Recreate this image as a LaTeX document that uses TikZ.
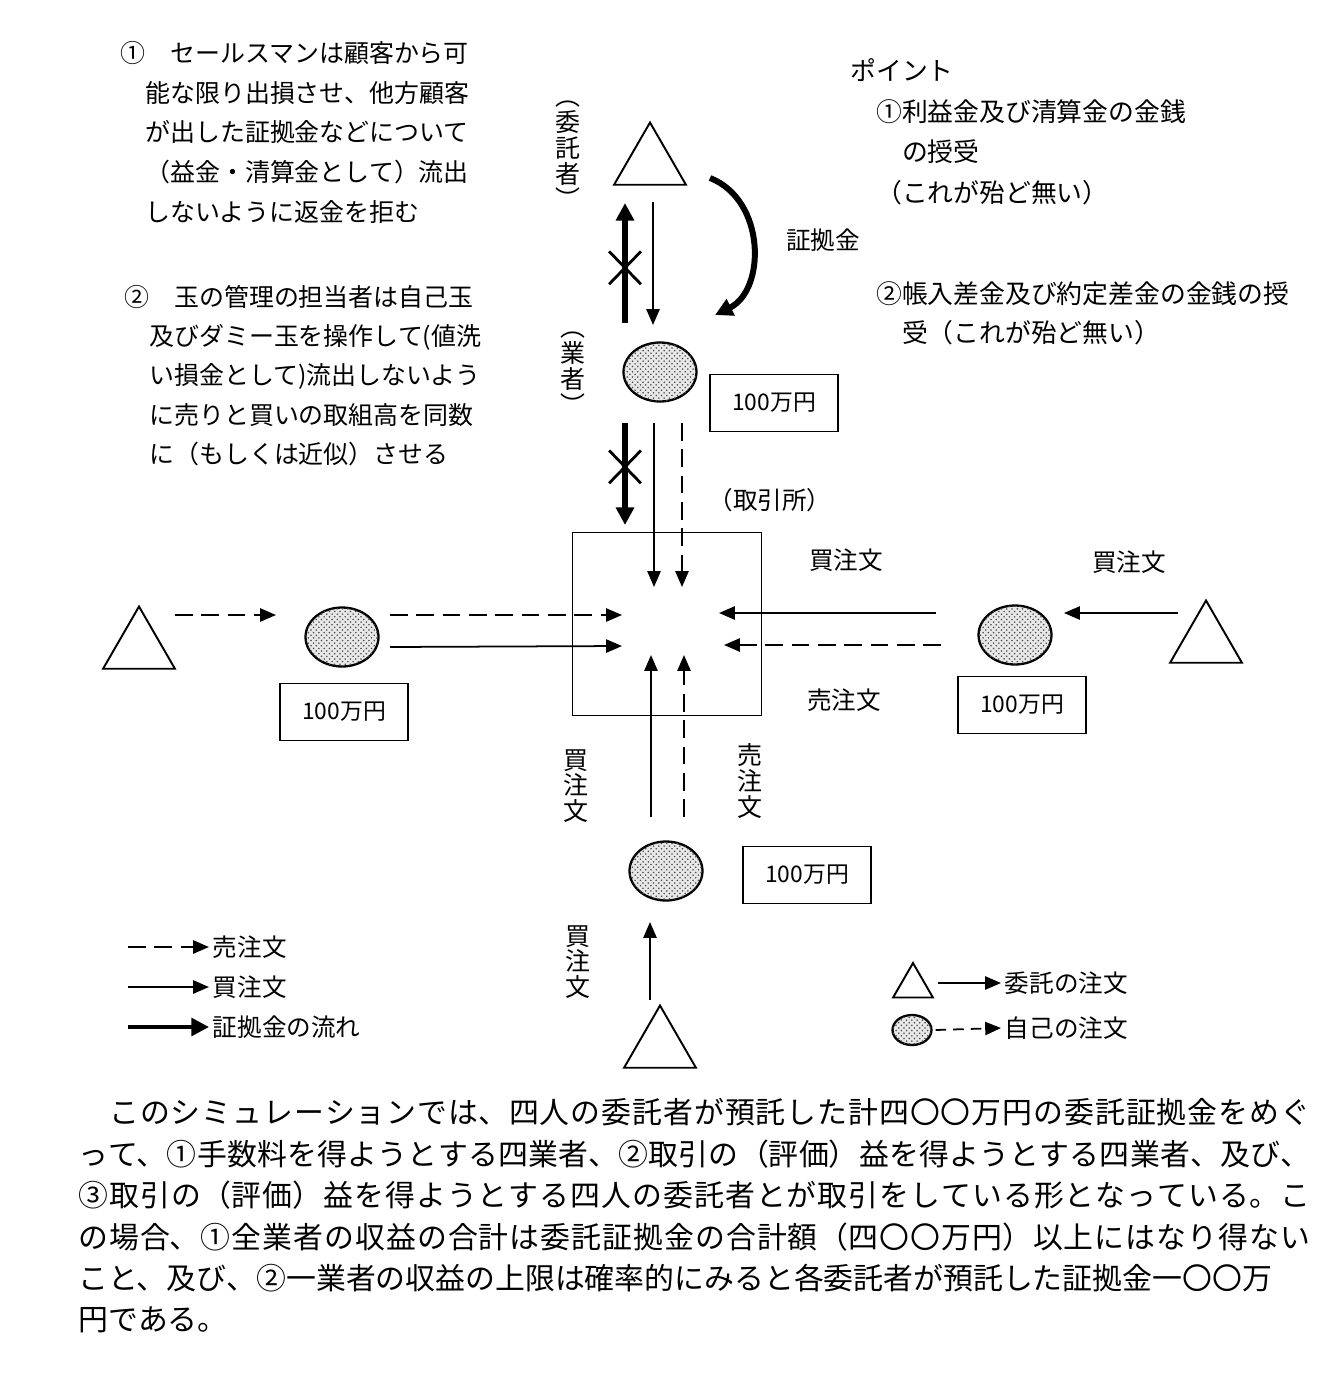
\documentclass[tikz,border=0pt]{standalone}
\usepackage{fontspec}
\setmainfont{Noto Sans CJK JP}
\usepackage{tikz}
\usetikzlibrary{arrows.meta,positioning,shapes.geometric,shapes.misc,calc,patterns}
\XeTeXlinebreaklocale "ja"
\XeTeXlinebreakskip=0pt plus 1pt
\newcommand{\tatefont}{\fontsize{14.2}{14.7}\selectfont}

\begin{document}
\begin{tikzpicture}[
  x=0.02cm, y=-0.02cm,
  itaku/.style={regular polygon, regular polygon sides=3, draw, line width=1.1pt, minimum size=1.66cm, inner sep=0pt},
  gyo/.style={ellipse, draw, line width=1.3pt, minimum width=1.46cm, minimum height=1.18cm, fill=gray!18, postaction={pattern=crosshatch dots, pattern color=gray!60!black}},
  kingaku/.style={draw, line width=1.1pt, minimum width=2.56cm, minimum height=1.14cm, font=\fontsize{13}{15}\selectfont},
  torihikijo/.style={draw, line width=1.1pt, minimum width=3.78cm, minimum height=3.66cm},
  kai/.style={-{Triangle[length=9pt, width=7.5pt]}, line width=1pt},
  uri/.style={kai, dash pattern=on 10pt off 5pt},
  shouko/.style={-{Triangle[length=10pt, width=10pt]}, line width=3pt},
  batsu/.style={cross out, draw, line width=1.6pt, minimum width=0.58cm, minimum height=0.6cm, inner sep=0pt},
  lbl/.style={font=\fontsize{14}{16}\selectfont, inner sep=2pt},
  tate/.style={align=center, inner sep=0pt, font=\tatefont},
  note/.style={align=left, inner sep=0pt, anchor=north west},
]
\useasboundingbox (0,0) rectangle (1324,1389);

% --- Notes (top) ---
\node[note, font=\fontsize{14.2}{22.6}\selectfont] (note1) at (120,41)
  {①　セールスマンは顧客から可\\　能な限り出損させ、他方顧客\\　が出した証拠金などについて\\　（益金・清算金として）流出\\　しないように返金を拒む};
\node[note, font=\fontsize{14.2}{22.3}\selectfont] (note2) at (124,285)
  {②　玉の管理の担当者は自己玉\\　及びダミー玉を操作して(値洗\\　い損金として)流出しないよう\\　に売りと買いの取組高を同数\\　に（もしくは近似）させる};
\node[note, font=\fontsize{14.7}{23.2}\selectfont] (point1) at (850,58)
  {ポイント\\　①利益金及び清算金の金銭\\　　の授受\\　（これが殆ど無い）};
\node[note, font=\fontsize{14.7}{22.6}\selectfont] (point2) at (850,281)
  {　②帳入差金及び約定差金の金銭の授\\　　受（これが殆ど無い）};

% --- Top: itakusha / gyosha ---
\node[itaku] (itakuN) at (650,164) {};
\node[gyo] (gyoN) at (660,372) {};
\node[kingaku] (kinN) at (774,403) {100万円};
\node[tate] (itakuLbl) at (568,155) {︵\\委\\託\\者\\︶};
\node[tate] (gyoLbl) at (573,373) {︵\\業\\者\\︶};
\node[lbl] (shoukoLbl) at (823,240) {証拠金};

\draw[shouko] ($(gyoN)+(-35,-49)$) -- node[batsu, pos=0.46] (batsuN) {} ($(itakuN)+(-25,39)$);
\draw[kai] ($(itakuN)+(3,38)$) -- ($(gyoN)+(-7,-47)$);
\draw[shouko, line width=3.4pt] ($(itakuN)+(60,14)$) .. controls ($(itakuN)+(116,36)$) and ($(gyoN)+(106,-82)$) .. ($(gyoN)+(55,-57)$);

% --- Exchange ---
\node[torihikijo] (torihiki) at (667,624) {};
\node[lbl] (torihikiLbl) at (770,500) {（取引所）};
\node[lbl] (kaiE1) at (846,560) {買注文};
\node[lbl] (uriE1) at (844,700) {売注文};

\draw[shouko] ($(gyoN)+(-35,51)$) -- node[batsu, pos=0.43] (batsuT) {} ($(torihiki)+(-42,-99)$);
\draw[kai] ($(gyoN)+(-6,51)$) -- ($(torihiki)+(-13,-37)$);
\draw[uri] ($(gyoN)+(22,51)$) -- ($(torihiki)+(15,-37)$);

% --- Left ---
\node[itaku] (itakuW) at (139,648) {};
\node[gyo] (gyoW) at (342,637) {};
\node[kingaku] (kinW) at (344,712) {100万円};
\draw[uri] ($(itakuW)+(36,-33)$) -- ($(gyoW)+(-66,-22)$);
\draw[uri] ($(gyoW)+(48,-22)$) -- ($(torihiki)+(-45,-9)$);
\draw[kai] ($(gyoW)+(48,10)$) -- ($(torihiki)+(-45,22)$);

% --- Right ---
\node[itaku] (itakuE) at (1206,642) {};
\node[gyo] (gyoE) at (1015,635) {};
\node[kingaku] (kinE) at (1022,705) {100万円};
\node[lbl] (kaiE2) at (1129,562) {買注文};
\draw[kai] ($(itakuE)+(-28,-29)$) -- ($(gyoE)+(49,-22)$);
\draw[kai] ($(gyoE)+(-79,-22)$) -- ($(torihiki)+(52,-11)$);
\draw[uri] ($(gyoE)+(-74,10)$) -- ($(torihiki)+(57,21)$);

% --- Bottom ---
\node[itaku] (itakuS) at (660,1047) {};
\node[gyo] (gyoS) at (666,871) {};
\node[kingaku] (kinS) at (807,875) {100万円};
\node[tate] (kaiS1) at (576,786) {買\\注\\文};
\node[tate] (uriS1) at (750,781) {売\\注\\文};
\node[tate] (kaiS2) at (578,962) {買\\注\\文};
\draw[kai] ($(itakuS)+(-10,-47)$) -- ($(gyoS)+(-16,51)$);
\draw[kai] ($(gyoS)+(-15,-54)$) -- ($(torihiki)+(-16,31)$);
\draw[uri] ($(gyoS)+(18,-54)$) -- ($(torihiki)+(17,31)$);

% --- Legend ---
\coordinate (legUriS) at (128,947);
\coordinate (legKaiS) at (128,987);
\coordinate (legShoukoS) at (128,1027);
\node[lbl, right=1.62cm of legUriS] (legUri) {売注文};
\node[lbl, right=1.62cm of legKaiS] (legKai) {買注文};
\node[lbl, right=1.62cm of legShoukoS] (legShouko) {証拠金の流れ};
\draw[uri] (legUriS) -- (legUri.west);
\draw[kai] (legKaiS) -- (legKai.west);
\draw[shouko, line width=2.2pt] (legShoukoS) -- (legShouko.west);

\node[itaku, minimum size=0.92cm] (legItaku) at (913,986) {};
\node[gyo, minimum width=0.78cm, minimum height=0.6cm] (legGyo) at (912,1030) {};
\node[lbl, anchor=west] (legItakuT) at (1001,983) {委託の注文};
\node[lbl, anchor=west] (legGyoT) at (1001,1028) {自己の注文};
\draw[kai] ($(legItaku)+(25,-3)$) -- (legItakuT.west);
\draw[uri, dash pattern=on 6pt off 4pt] ($(legGyo.east)+(3,0)$) -- (legGyoT.west);

% --- Explanation ---
\node[note, text width=24.64cm, align=justify, font=\fontsize{17}{23.6}\selectfont] (setsumei) at (78,1098)
  {　このシミュレーションでは、四人の委託者が預託した計四〇〇万円の委託証拠金をめぐ\linebreak
  って、①手数料を得ようとする四業者、②取引の（評価）益を得ようとする四業者、及び、\linebreak
  ③取引の（評価）益を得ようとする四人の委託者とが取引をしている形となっている。こ\linebreak
  の場合、①全業者の収益の合計は委託証拠金の合計額（四〇〇万円）以上にはなり得ない\linebreak
  こと、及び、②一業者の収益の上限は確率的にみると各委託者が預託した証拠金一〇〇万\\
  円である。};
\end{tikzpicture}
\end{document}
